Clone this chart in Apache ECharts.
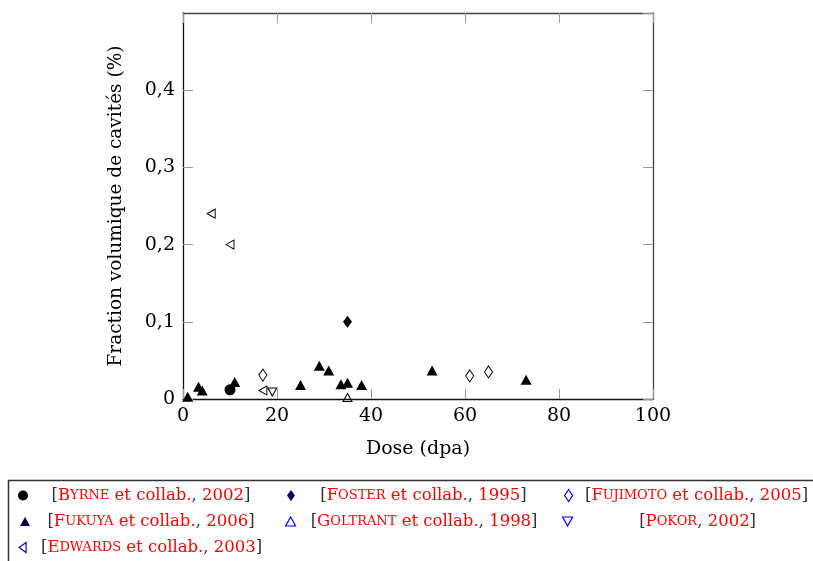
<!DOCTYPE html>
<html>
<head>
<meta charset="utf-8">
<script src="https://cdn.jsdelivr.net/npm/echarts@6/dist/echarts.min.js"></script>
<style>html,body{margin:0;padding:0;background:#fff;}#c{width:813px;height:561px;}</style>
</head>
<body>
<div id="c"></div>
<script>
// ---- data ----
const byrneX = [10];
const byrneY = [0.012];
const fosterX = [35];
const fosterY = [0.1];
const fujimotoX = [17, 61, 65];
const fujimotoY = [0.031, 0.030, 0.035];
const fukuyaX = [1, 3.3, 4.1, 11, 25, 29, 31, 33.6, 35, 38, 53, 73];
const fukuyaY = [0.003, 0.016, 0.011, 0.022, 0.018, 0.043, 0.037, 0.019, 0.021, 0.018, 0.037, 0.025];
const goltrantX = [35];
const goltrantY = [0.002];
const pokorX = [19];
const pokorY = [0.009];
const edwardsX = [6, 10, 17];
const edwardsY = [0.24, 0.2, 0.011];
const xTicks = [0, 20, 40, 60, 80, 100];
const yTicks = ['0', '0,1', '0,2', '0,3', '0,4'];
const xTitle = 'Dose (dpa)';
const yTitle = 'Fraction volumique de cavités (%)';

const FONT = '"DejaVu Serif", serif';
const zip = (xs, ys) => xs.map((x, i) => [x, ys[i]]);

// legend labels: [text, style]
const labels = {
  'Byrne':    [['[','k'],['B','r'],['YRNE','s'],[' et collab.','r'],[', ','k'],['2002','r'],[']','k']],
  'Foster':   [['[','k'],['F','r'],['OSTER','s'],[' et collab.','r'],[', ','k'],['1995','r'],[']','k']],
  'Fujimoto': [['[','k'],['F','r'],['UJIMOTO','s'],[' et collab.','r'],[', ','k'],['2005','r'],[']','k']],
  'Fukuya':   [['[','k'],['F','r'],['UKUYA','s'],[' et collab.','r'],[', ','k'],['2006','r'],[']','k']],
  'Goltrant': [['[','k'],['G','r'],['OLTRANT','s'],[' et collab.','r'],[', ','k'],['1998','r'],[']','k']],
  'Pokor':    [['[','k'],['P','r'],['OKOR','s'],[', ','k'],['2002','r'],[']','k']],
  'Edwards':  [['[','k'],['E','r'],['DWARDS','s'],[' et collab.','r'],[', ','k'],['2003','r'],[']','k']]
};
const LFS = 16.5, LSC = 13;
const ctx = document.createElement('canvas').getContext('2d');
function measure(parts) {
  let w = 0;
  parts.forEach(([t, s]) => {
    ctx.font = (s === 's' ? LSC : LFS) + 'px ' + FONT;
    w += ctx.measureText(t).width;
  });
  return w;
}
const rich = {
  k: {color: '#333', fontSize: LFS, fontFamily: FONT, lineHeight: 20},
  r: {color: '#f00', fontSize: LFS, fontFamily: FONT, lineHeight: 20},
  s: {color: '#f00', fontSize: LSC, fontFamily: FONT, lineHeight: 20}
};

// legend entries: name, marker x, row y, column centre, icon, size, style
const legendDefs = [
  ['Byrne', 23, 497, 151, 'circle', [10, 10], {color: '#000'}],
  ['Foster', 291, 497, 423.5, 'diamond', [8, 11], {color: '#000060'}],
  ['Fujimoto', 568, 497, 696, 'diamond', [8, 12], {color: 'rgba(0,0,0,0)', borderColor: '#00f', borderWidth: 1.2}],
  ['Fukuya', 25, 523, 151, 'triangle', [10, 9], {color: '#000050'}],
  ['Goltrant', 290, 523, 423.5, 'triangle', [10, 9], {color: 'rgba(0,0,0,0)', borderColor: '#00f', borderWidth: 1.2}],
  ['Pokor', 567, 523, 697, 'path://M0,0 L10,0 L5,9 Z', [10, 9], {color: 'rgba(0,0,0,0)', borderColor: '#00f', borderWidth: 1.2}],
  ['Edwards', 22, 549, 151, 'path://M0,5 L7,0 L7,10 Z', [7, 10], {color: 'rgba(0,0,0,0)', borderColor: '#00f', borderWidth: 1.2}]
];
const legends = legendDefs.map(([name, mx, ry, cc, icon, sz, st]) => {
  const tw = measure(labels[name]);
  const left = mx - sz[0] / 2;
  const textStart = left + sz[0] + 5;
  const sp = Math.max(0, cc - tw / 2 - textStart);
  const r = Object.assign({sp: {width: sp, lineHeight: 20, fontSize: LFS}}, rich);
  return {
    left: left, top: ry - 10, padding: 0, itemWidth: sz[0], itemHeight: sz[1],
    itemGap: 0, selectedMode: false, symbolKeepAspect: false,
    data: [{name: name, icon: icon, itemStyle: Object.assign({opacity: 1}, st)}],
    formatter: n => '{sp| }' + labels[n].map(([t, s]) => '{' + s + '|' + t + '}').join(''),
    textStyle: {rich: r, fontFamily: FONT, fontSize: LFS}
  };
});

const openStyle = {color: 'rgba(255,255,255,0)', borderColor: '#000', borderWidth: 1, opacity: 1};
const filled = {color: '#000', opacity: 1};
function sc(name, xs, ys, symbol, size, style, rot) {
  return {type: 'scatter', name: name, data: zip(xs, ys), symbol: symbol, symbolSize: size,
    symbolRotate: rot || 0, itemStyle: style, clip: false, z: 5, emphasis: {disabled: true}};
}

const axisLabelStyle = {color: '#000', fontFamily: FONT, fontSize: 19};
const option = {
  animation: false,
  backgroundColor: '#fff',
  grid: {left: 183, right: 160, top: 13, bottom: 162},
  xAxis: [{
    type: 'value', position: 'bottom', min: 0, max: 100, interval: 20,
    axisLine: {lineStyle: {color: '#111', width: 1.3}},
    axisTick: {inside: true, length: 10, lineStyle: {color: '#999'}},
    axisLabel: Object.assign({margin: 8, formatter: v => xTicks.includes(v) ? String(v) : ''}, axisLabelStyle),
    splitLine: {show: false},
    name: xTitle, nameLocation: 'middle', nameGap: 41,
    nameTextStyle: {color: '#000', fontFamily: FONT, fontSize: 19}
  }, {
    type: 'value', position: 'top', min: 0, max: 100, interval: 20,
    axisLine: {onZero: false, lineStyle: {color: '#444', width: 1.3}},
    axisTick: {inside: true, length: 10, lineStyle: {color: '#999'}},
    axisLabel: {show: false}, splitLine: {show: false}
  }],
  yAxis: [{
    type: 'value', position: 'left', min: 0, max: 0.5, interval: 0.1,
    axisLine: {lineStyle: {color: '#111', width: 1.3}},
    axisTick: {inside: true, length: 10, lineStyle: {color: '#999'}},
    axisLabel: Object.assign({margin: 8, showMaxLabel: false,
      formatter: v => yTicks[Math.round(v * 10)] || ''}, axisLabelStyle),
    splitLine: {show: false},
    name: yTitle, nameLocation: 'middle', nameGap: 57, nameRotate: 90,
    nameTextStyle: {color: '#000', fontFamily: FONT, fontSize: 18.5}
  }, {
    type: 'value', position: 'right', min: 0, max: 0.5, interval: 0.1,
    axisLine: {onZero: false, lineStyle: {color: '#444', width: 1.3}},
    axisTick: {inside: true, length: 10, lineStyle: {color: '#999'}},
    axisLabel: {show: false}, splitLine: {show: false}
  }],
  legend: legends,
  graphic: [{type: 'rect', shape: {x: 8.5, y: 480.5, width: 900, height: 200},
    style: {fill: 'none', stroke: '#333', lineWidth: 1.5}, silent: true}],
  series: [
    sc('Byrne', byrneX, byrneY, 'circle', 11, filled),
    sc('Foster', fosterX, fosterY, 'diamond', [9, 12], filled),
    sc('Fujimoto', fujimotoX, fujimotoY, 'diamond', [8, 12], openStyle),
    sc('Fukuya', fukuyaX, fukuyaY, 'triangle', [11, 10], filled),
    sc('Goltrant', goltrantX, goltrantY, 'triangle', [9, 8], openStyle),
    sc('Pokor', pokorX, pokorY, 'triangle', [9, 8], openStyle, 180),
    sc('Edwards', edwardsX, edwardsY, 'triangle', [9, 8], openStyle, 90)
  ]
};
const chart = echarts.init(document.getElementById('c'), null, {renderer: 'canvas'});
chart.setOption(option);
</script>
</body>
</html>
